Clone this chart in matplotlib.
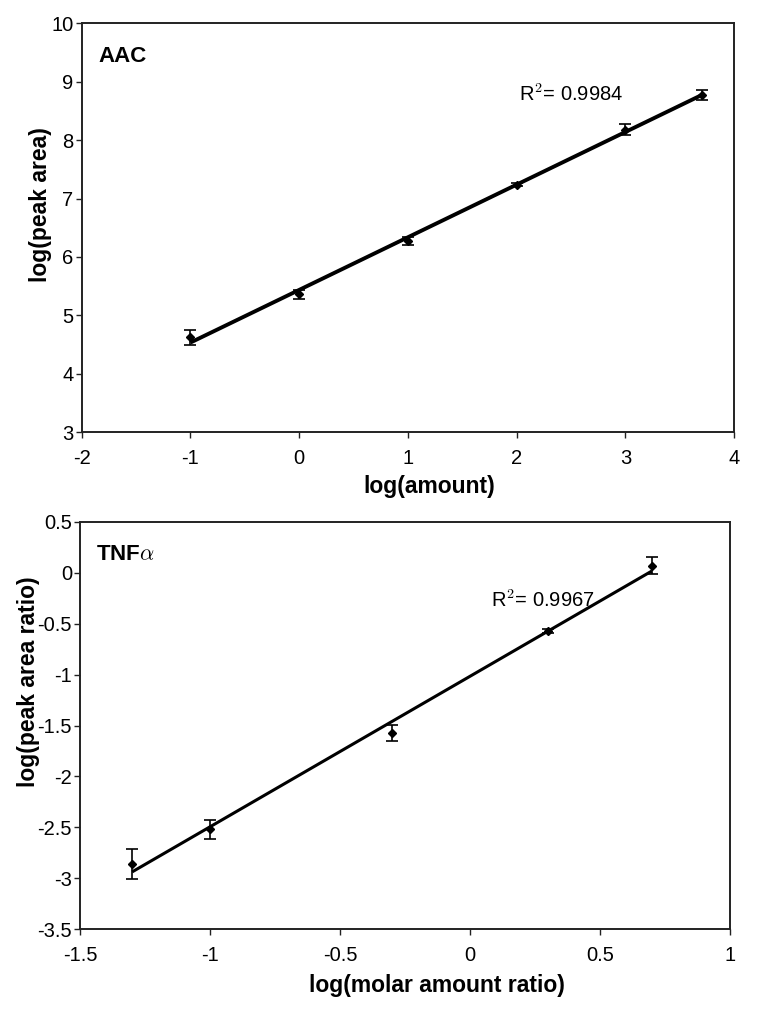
import numpy as np
import matplotlib
matplotlib.use("Agg")
import matplotlib.pyplot as plt

plt.rcParams['font.family'] = ['Liberation Sans', 'DejaVu Sans']
plt.rcParams['mathtext.fontset'] = 'cm'

# AAC panel
aac_x = [-1, 0, 1, 2, 3, 3.7]
aac_y = [4.62, 5.36, 6.28, 7.24, 8.18, 8.78]
aac_err = [0.13, 0.075, 0.07, 0.03, 0.09, 0.085]

# TNFa panel
tnf_x = [-1.3, -1.0, -0.3, 0.3, 0.7]
tnf_y = [-2.86, -2.52, -1.57, -0.57, 0.07]
tnf_err = [0.145, 0.09, 0.08, 0.02, 0.085]

fig = plt.figure(figsize=(7.64, 10.19), dpi=100)

def style(ax):
    for s in ax.spines.values():
        s.set_linewidth(1.4)
        s.set_color('#222222')
    ax.tick_params(direction='out', length=4, width=1, labelsize=14.5, colors='#222222',
                   labelcolor='black')
    ax.tick_params(axis='x', pad=8)
    ax.tick_params(axis='y', pad=2)

def panel(ax, x, y, err, xlim, ylim, xticks, yticks, xlabel, ylabel, tag, r2, r2pos, lw,
          xlab_pos, ylab_pos):
    x = np.array(x); y = np.array(y)
    m, b = np.polyfit(x, y, 1)
    xx = np.array([x.min(), x.max()])
    ax.plot(xx, m * xx + b, color='black', lw=lw, solid_capstyle='butt', zorder=2)
    ax.errorbar(x, y, yerr=err, fmt='D', ms=4, color='black', ecolor='black',
                elinewidth=1.2, capsize=4, capthick=1.2, zorder=3)
    ax.set_xlim(*xlim); ax.set_ylim(*ylim)
    ax.set_xticks(xticks); ax.set_yticks(yticks)
    ax.set_xticklabels([f"{t:g}" for t in xticks])
    ax.set_yticklabels([f"{t:g}" for t in yticks])
    ax.set_xlabel(xlabel, fontsize=16.5, fontweight='bold')
    ax.set_ylabel(ylabel, fontsize=16.5, fontweight='bold')
    ax.xaxis.set_label_coords(*xlab_pos)
    ax.yaxis.set_label_coords(*ylab_pos)
    ax.text(0.025, 0.92, tag, transform=ax.transAxes, fontsize=16, fontweight='bold',
            va='center', ha='left')
    ax.text(r2pos[0], r2pos[1], r2, fontsize=14.5, va='center', ha='left')
    style(ax)

ax1 = fig.add_axes([0.107, 0.576, 0.854, 0.401])
panel(ax1, aac_x, aac_y, aac_err, (-2, 4), (3, 10), [-2, -1, 0, 1, 2, 3, 4],
      [3, 4, 5, 6, 7, 8, 9, 10], 'log(amount)', 'log(peak area)', 'AAC',
      'R$^2$= 0.9984', (2.02, 8.78), 2.8, (0.532, -0.105), (-0.045, 0.557))

ax2 = fig.add_axes([0.105, 0.088, 0.850, 0.400])
panel(ax2, tnf_x, tnf_y, tnf_err, (-1.5, 1), (-3.5, 0.5), [-1.5, -1, -0.5, 0, 0.5, 1],
      [-3.5, -3, -2.5, -2, -1.5, -1, -0.5, 0, 0.5], 'log(molar amount ratio)',
      'log(peak area ratio)', r'TNF$\alpha$', 'R$^2$= 0.9967', (0.08, -0.27), 2.2,
      (0.55, -0.11), (-0.062, 0.607))

fig.savefig('out.png', dpi=100)
